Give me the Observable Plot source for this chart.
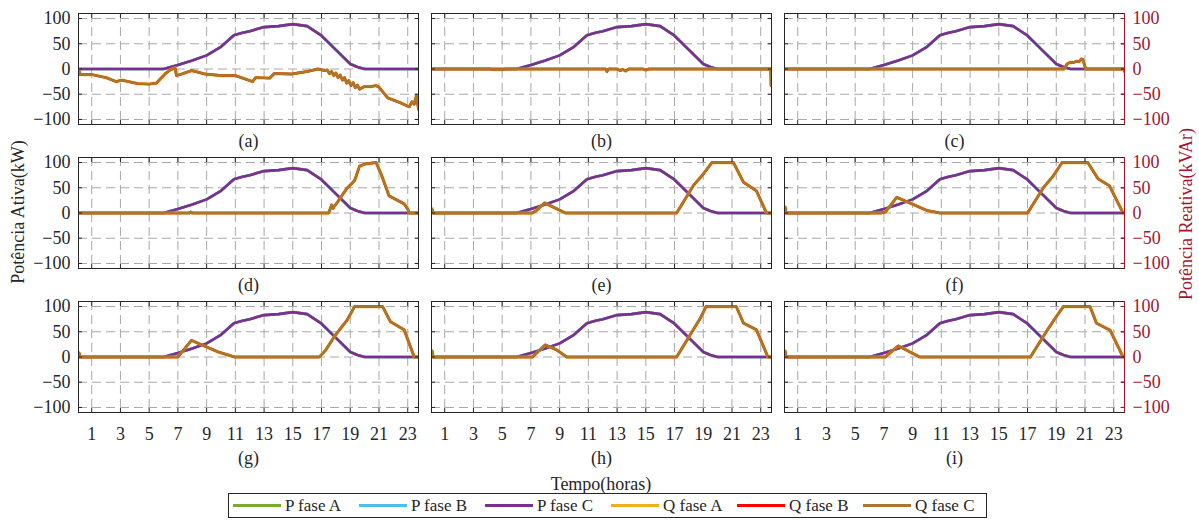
<!DOCTYPE html>
<html><head><meta charset="utf-8">
<script src="https://cdn.jsdelivr.net/npm/d3@7"></script>
<script src="https://cdn.jsdelivr.net/npm/@observablehq/plot@0.6"></script>
<style>
body{margin:0;background:#fff;}
#wrap{position:relative;width:1199px;height:520px;font-family:"Liberation Serif","Times New Roman",serif;color:#262626;background:#fff;overflow:hidden;}
#wrap svg{position:absolute;left:0;top:0;}
.abs{position:absolute;white-space:nowrap;}
.ylab{transform:translate(-50%,-50%) rotate(-90deg);font-size:18px;}
#xlab{left:601px;top:484px;transform:translate(-50%,-50%);font-size:18px;}
#legend{left:228px;top:493px;width:757px;height:23px;border:1px solid #262626;display:flex;align-items:center;font-size:17px;}
.item{display:flex;align-items:center;width:126px;}
.sw{width:48px;height:3px;margin:0 4px 0 4px;}
</style></head><body><div id="wrap"></div>
<script>
const panelNames = ["(a)","(b)","(c)","(d)","(e)","(f)","(g)","(h)","(i)"];
const hourTicks = [1,3,5,7,9,11,13,15,17,19,21,23];
const yTicks = [-100,-50,0,50,100];
const seriesNames = ["P fase A","P fase B","P fase C","Q fase A","Q fase B","Q fase C"];
const seriesColors = ["#77AC30","#4DBEEE","#7E2F8E","#EDB120","#FF0000","#A8782C"];

// Active power (same in every panel)
const pHours  = [0.08, 6, 7, 8, 9, 10, 10.9, 11.5, 12, 13, 14, 15, 16, 17, 18, 19, 19.5, 20, 23.75];
const pValues = [0, 0, 8, 17, 27, 44, 67, 72, 75, 83, 85, 89, 85, 66, 38, 10, 4, 0, 0];

// Reactive power per panel
const qHoursA  = [0.08,0.2,1.0,2.0,2.7,3.1,4.2,5.0,5.5,6.1,6.45,6.8,6.9,7.25,7.95,8.9,10,11,12.2,12.4,13.4,13.7,14.9,16.0,16.75,17.2,17.4,17.55,17.7,17.85,18.0,18.15,18.3,18.45,18.6,18.75,18.9,19.05,19.2,19.35,19.5,19.65,19.97,20.4,20.8,21.0,21.6,22.5,23.1,23.3,23.45,23.6,23.7,23.75];
const qValuesA = [0,-11,-11,-17,-25,-22,-29,-30,-28,-10,-2,2,-13,-10,-3,-10,-13,-13,-25,-17,-18,-9,-10,-5,0,-3,-2,-9,-5,-13,-8,-17,-12,-22,-17,-28,-23,-33,-27,-37,-32,-40,-35,-35,-33,-36,-57,-67,-75,-65,-70,-53,-70,-80];
const qHoursB  = [0.08,4.2,4.4,5.0,5.2,12.2,12.3,12.4,13.0,13.2,13.4,13.6,13.8,14.8,15.0,15.2,23.7,23.72,23.75];
const qValuesB = [0,0,-1.5,-1.5,0,0,-5,0,0,-3,-1,-4,0,0,-2,0,0,-33,-33];
const qHoursC  = [0.08,19.55,19.75,19.95,20.2,20.4,20.6,20.75,20.85,21.05,21.15,23.7,23.75];
const qValuesC = [0,0,10,13,13,15,15,20,19,0,0,0,-5];
const qHoursD  = [0.08,7.8,7.9,8.0,17.5,17.7,17.8,17.9,18.1,18.5,18.8,19.3,19.65,20.0,20.8,21.15,21.7,22.1,22.75,23.0,23.1,23.75];
const qValuesD = [0,0,2,0,0,16,9,14,21,38,50,64,93,97,100,77,34,28,18,8,0,0];
const qHoursE  = [0.08,0.12,0.2,7.1,7.4,7.95,8.6,9.4,17.15,17.6,18.3,19.0,19.6,21.1,21.8,22.7,23.4,23.75];
const qValuesE = [8,8,0,0,5,20,11,0,0,21,54,77,100,100,61,44,0,0];
const qHoursF  = [0.08,0.12,0.2,6.8,7.1,7.9,8.95,10.0,10.9,17.0,17.4,18.1,18.8,19.4,21.2,21.9,22.7,23.65,23.75];
const qValuesF = [12,12,0,0,2,31,18,5,0,0,18,50,74,100,100,68,54,0,0];
const qHoursG  = [0.08,0.12,0.2,7.0,7.95,8.9,9.8,10.95,16.85,17.3,17.9,18.8,19.3,21.25,21.8,22.75,23.45,23.75];
const qValuesG = [8,8,0,0,33,21,10,0,0,14,41,74,100,100,70,54,0,0];
const qHoursH  = [0.08,0.12,0.2,7.1,8.0,8.8,9.5,17.15,17.6,18.3,18.8,19.2,21.3,21.8,22.7,23.5,23.75];
const qValuesH = [12,12,0,0,24,14,0,0,21,54,77,100,100,67,54,0,0];
const qHoursI  = [0.08,0.12,0.2,7.1,8.0,8.95,9.5,17.2,17.6,18.3,19.0,19.5,21.35,21.8,22.75,23.65,23.75];
const qValuesI = [12,12,0,0,22,8,0,0,18,50,80,100,100,67,53,0,0];

const qHours  = [qHoursA,qHoursB,qHoursC,qHoursD,qHoursE,qHoursF,qHoursG,qHoursH,qHoursI];
const qValues = [qValuesA,qValuesB,qValuesC,qValuesD,qValuesE,qValuesF,qValuesG,qValuesH,qValuesI];

const red = "#A2142F";
const ink = "#262626";

const pRows = [], qRows = [], labels = [];
panelNames.forEach((name, k) => {
  const col = k % 3, row = Math.floor(k / 3);
  labels.push({col, row, name});
  pHours.forEach((h, i) => pRows.push({col, row, h, v: pValues[i]}));
  qHours[k].forEach((h, i) => qRows.push({col, row, h, v: qValues[k][i]}));
});

const lineOpts = (color, w) => ({x: "h", y: "v", fx: "col", fy: "row", stroke: color, strokeWidth: w, strokeLinejoin: "round", clip: true});

const chart = Plot.plot({
  width: 1199,
  height: 470,
  marginLeft: 77,
  marginRight: 74,
  marginTop: 13,
  marginBottom: 57,
  style: {fontFamily: "'Liberation Serif','Times New Roman',serif", fontSize: "18px", color: ink, background: "transparent"},
  x: {domain: [0.08, 23.75]},
  y: {domain: [-110, 110]},
  fx: {axis: null, domain: [0,1,2], paddingInner: 0.036, paddingOuter: 0},
  fy: {axis: null, domain: [0,1,2], paddingInner: 0.226, paddingOuter: 0},
  marks: [
    Plot.gridX(hourTicks, {stroke: "#a8a8a8", strokeOpacity: 1, strokeDasharray: "9,5"}),
    Plot.gridY(yTicks, {stroke: "#a8a8a8", strokeOpacity: 1, strokeDasharray: "9,5"}),
    Plot.line(pRows, lineOpts(seriesColors[0], 2.6)),
    Plot.line(pRows, lineOpts(seriesColors[1], 2.6)),
    Plot.line(pRows, lineOpts(seriesColors[2], 2.6)),
    Plot.line(qRows, lineOpts(seriesColors[3], 3.2)),
    Plot.line(qRows, lineOpts(seriesColors[4], 2.4)),
    Plot.line(qRows, lineOpts(seriesColors[5], 2.4)),
    Plot.frame({stroke: ink}),
    Plot.axisX(hourTicks, {anchor: "bottom", tickSize: -4, fill: "none", label: null, facetAnchor: null, stroke: ink}),
    Plot.axisX(hourTicks, {anchor: "top", tickSize: -4, fill: "none", label: null, facetAnchor: null, stroke: ink}),
    Plot.axisY(yTicks, {anchor: "left", tickSize: -4, fill: "none", label: null, facetAnchor: null, stroke: ink}),
    Plot.axisY(yTicks, {anchor: "right", tickSize: -4, fill: "none", label: null, facetAnchor: null, stroke: ink}),
    Plot.frame({anchor: "right", stroke: red, facetAnchor: "right"}),
    Plot.axisY(yTicks, {anchor: "right", tickSize: -4, fill: "none", label: null, stroke: red}),
    Plot.axisX(hourTicks, {anchor: "bottom", tickSize: 0, tickPadding: 15, label: null, fill: ink}),
    Plot.axisY(yTicks, {anchor: "left", tickSize: 0, tickPadding: 8, label: null, fill: ink}),
    Plot.axisY(yTicks, {anchor: "right", tickSize: 0, tickPadding: 8, label: null, fill: red}),
    Plot.text(labels.filter(d => d.row < 2), {fx: "col", fy: "row", text: "name", frameAnchor: "bottom", dy: 22, fill: ink}),
    Plot.text(labels.filter(d => d.row === 2), {fx: "col", fy: "row", text: "name", frameAnchor: "bottom", dy: 51, fill: ink})
  ]
});

const wrap = document.getElementById("wrap");
wrap.appendChild(chart);

const yl = document.createElement("div");
yl.className = "abs ylab"; yl.style.left = "18px"; yl.style.top = "212px";
yl.textContent = "Potência Ativa(kW)";
wrap.appendChild(yl);

const yr = document.createElement("div");
yr.className = "abs ylab"; yr.style.left = "1186px"; yr.style.top = "214px"; yr.style.color = red;
yr.textContent = "Potência Reativa(kVAr)";
wrap.appendChild(yr);

const xl = document.createElement("div");
xl.className = "abs"; xl.id = "xlab"; xl.textContent = "Tempo(horas)";
wrap.appendChild(xl);

const lg = document.createElement("div");
lg.className = "abs"; lg.id = "legend";
seriesNames.forEach((n, i) => {
  const it = document.createElement("div"); it.className = "item";
  const sw = document.createElement("div"); sw.className = "sw"; sw.style.background = seriesColors[i];
  const tx = document.createElement("span"); tx.textContent = n;
  it.appendChild(sw); it.appendChild(tx); lg.appendChild(it);
});
wrap.appendChild(lg);
</script>
</body></html>
